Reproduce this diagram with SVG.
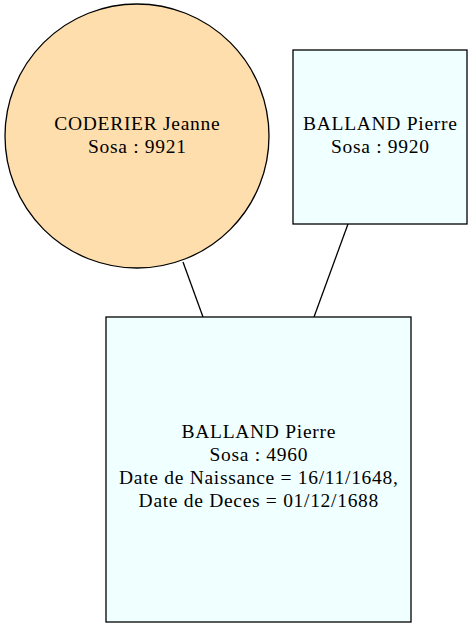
<svg xmlns="http://www.w3.org/2000/svg" width="472" height="628" viewBox="0 0 472 628">
<style>
text{font-family:"Liberation Serif","Times New Roman",serif;font-size:19.5px;letter-spacing:0.7px;text-anchor:middle;fill:#000}
.n{stroke:#000;stroke-width:1.3}
.e{stroke:#000;stroke-width:1.3;fill:none}
</style>
<rect width="472" height="628" fill="#fff"/>
<g id="edges">
<line class="e" x1="183" y1="262" x2="203" y2="317"/>
<line class="e" x1="348" y1="224" x2="314" y2="317"/>
</g>
<g id="n9921">
<circle class="n" cx="137" cy="136" r="132" fill="#ffdead"/>
<text x="137.3" y="130">CODERIER Jeanne</text>
<text x="137.3" y="153">Sosa : 9921</text>
</g>
<g id="n9920">
<rect class="n" x="293" y="50" width="174" height="174" fill="#f0ffff"/>
<text x="380.3" y="130">BALLAND Pierre</text>
<text x="380.3" y="153">Sosa : 9920</text>
</g>
<g id="n4960">
<rect class="n" x="106" y="317" width="305" height="305" fill="#f0ffff"/>
<text x="258.8" y="438">BALLAND Pierre</text>
<text x="258.8" y="461">Sosa : 4960</text>
<text x="258.8" y="484">Date de Naissance = 16/11/1648,</text>
<text x="258.8" y="507">Date de Deces = 01/12/1688</text>
</g>
</svg>
